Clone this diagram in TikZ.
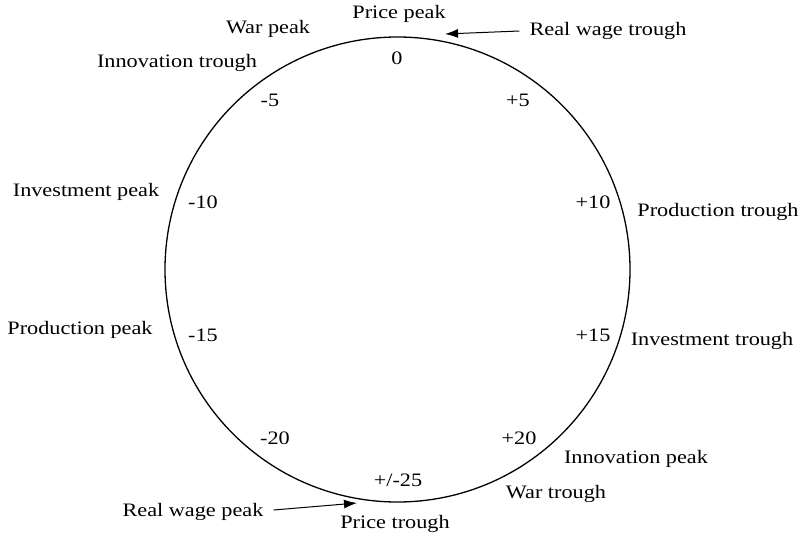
\documentclass[tikz,border=0pt]{standalone}
\usepackage{fontspec}
\setmainfont[FakeStretch=1.17]{Liberation Serif}
\usetikzlibrary{arrows.meta}
\begin{document}
\begin{tikzpicture}[x=1pt,y=-1pt,
  lbl/.style={font=\fontsize{19}{22}\selectfont, inner sep=0pt},
  arr/.style={-{Latex[length=13pt,width=9pt]}, line width=1pt}]
\useasboundingbox (0,0) rectangle (805,541);
\node[draw, circle, line width=1.3pt, minimum size=465pt, inner sep=0pt] (c) at (397.5,269.5) {};
\node[lbl] (pp) at (399,14) {Price peak};
\node[lbl] (n0) at (397,58) {0};
\node[lbl] (rwt) at (608,31) {Real wage trough};
\coordinate (rwth) at (445,34);
\draw[arr] (rwt.west) ++(-10,0) -- (rwth);
\node[lbl] (wp) at (268,29) {War peak};
\node[lbl] (it) at (177,63) {Innovation trough};
\node[lbl] (m5) at (270,100) {-5};
\node[lbl] (p5) at (518,100) {+5};
\node[lbl] (ip) at (86,192) {Investment peak};
\node[lbl] (m10) at (203,202) {-10};
\node[lbl] (p10) at (593,202) {+10};
\node[lbl] (prt) at (718,212) {Production trough};
\node[lbl] (prp) at (80,330) {Production peak};
\node[lbl] (m15) at (203,335) {-15};
\node[lbl] (p15) at (593,335) {+15};
\node[lbl] (ivt) at (712,341) {Investment trough};
\node[lbl] (m20) at (275,438) {-20};
\node[lbl] (p20) at (519,438) {+20};
\node[lbl] (inp) at (636,459) {Innovation peak};
\node[lbl] (p25) at (398,480) {+/-25};
\node[lbl] (wt) at (556,494) {War trough};
\node[lbl] (rwp) at (193,512) {Real wage peak};
\node[lbl] (pt) at (395,524) {Price trough};
\coordinate (rwph) at (357,503);
\draw[arr] (rwp.east) ++(10,-2) -- (rwph);
\end{tikzpicture}
\end{document}
